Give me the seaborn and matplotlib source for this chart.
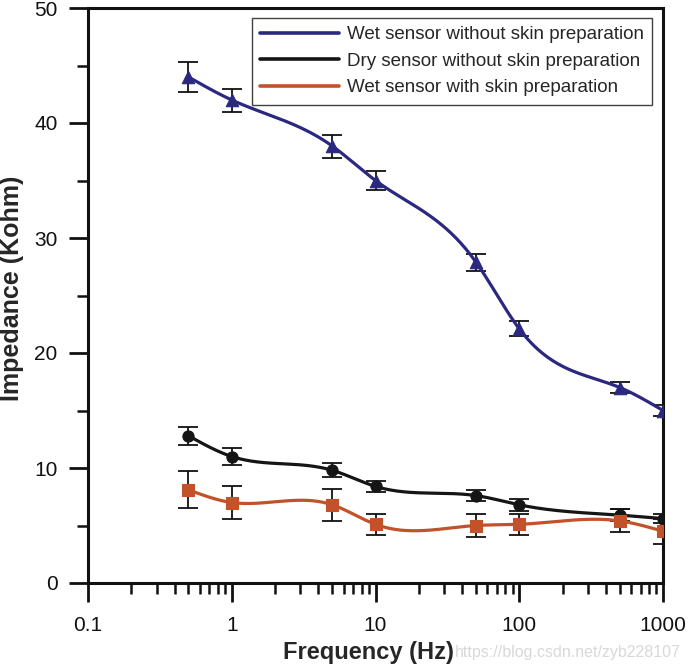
import numpy as np
import pandas as pd
import matplotlib
matplotlib.use("Agg")
import matplotlib.pyplot as plt
import matplotlib.ticker as mticker
import seaborn as sns

# ---------------- data ----------------
freq = [0.5, 1, 5, 10, 50, 100, 500, 1000]

wet_no_prep = [44.0, 42.0, 38.0, 35.0, 27.9, 22.1, 17.0, 15.0]
wet_no_prep_err = [1.3, 1.0, 1.0, 0.8, 0.75, 0.65, 0.5, 0.5]

dry_no_prep = [12.8, 11.0, 9.8, 8.4, 7.6, 6.8, 5.9, 5.6]
dry_no_prep_err = [0.8, 0.7, 0.6, 0.5, 0.5, 0.5, 0.5, 0.4]

wet_prep = [8.1, 7.0, 6.8, 5.1, 5.0, 5.1, 5.4, 4.5]
wet_prep_err = [1.6, 1.4, 1.4, 0.9, 1.0, 0.9, 1.0, 1.1]

series_names = ["Wet sensor without skin preparation",
                "Dry sensor without skin preparation",
                "Wet sensor with skin preparation"]
x_tick_labels = ["0.1", "1", "10", "100", "1000"]
y_ticks = [0, 10, 20, 30, 40, 50]

colors = ["#2B2880", "#151515", "#C1522A"]
markers = ["^", "o", "s"]


def natural_spline(x, y, n=400):
    x = np.asarray(x, float)
    y = np.asarray(y, float)
    k = len(x)
    h = np.diff(x)
    A = np.zeros((k, k))
    b = np.zeros(k)
    A[0, 0] = 1
    A[-1, -1] = 1
    for i in range(1, k - 1):
        A[i, i - 1] = h[i - 1]
        A[i, i] = 2 * (h[i - 1] + h[i])
        A[i, i + 1] = h[i]
        b[i] = 3 * ((y[i + 1] - y[i]) / h[i] - (y[i] - y[i - 1]) / h[i - 1])
    c = np.linalg.solve(A, b)
    xs = np.linspace(x[0], x[-1], n)
    ys = np.empty_like(xs)
    for j, xv in enumerate(xs):
        i = min(np.searchsorted(x, xv, side="right") - 1, k - 2)
        i = max(i, 0)
        dx = xv - x[i]
        bi = (y[i + 1] - y[i]) / h[i] - h[i] * (2 * c[i] + c[i + 1]) / 3
        di = (c[i + 1] - c[i]) / (3 * h[i])
        ys[j] = y[i] + bi * dx + c[i] * dx ** 2 + di * dx ** 3
    return xs, ys


sns.set_theme(style="ticks")
plt.rcParams["font.family"] = ["Liberation Sans", "DejaVu Sans"]

fig = plt.figure(figsize=(6.88, 6.65), dpi=100)
ax = fig.add_axes([88 / 688, 82 / 665, 575 / 688, 575 / 665])

all_vals = [wet_no_prep, dry_no_prep, wet_prep]
all_errs = [wet_no_prep_err, dry_no_prep_err, wet_prep_err]

for name, vals, errs, col, mk in zip(series_names, all_vals, all_errs, colors, markers):
    lx, ly = natural_spline(np.log10(freq), vals)
    curve = pd.DataFrame({"x": 10 ** lx, "y": ly})
    sns.lineplot(data=curve, x="x", y="y", ax=ax, color=col, lw=2.3,
                 sort=False, label=name, zorder=3)
    ax.errorbar(freq, vals, yerr=errs, fmt="none", ecolor="#111111",
                elinewidth=1.3, capsize=7, capthick=1.3, zorder=2)
    pts = pd.DataFrame({"x": freq, "y": vals})
    sns.scatterplot(data=pts, x="x", y="y", ax=ax, color=col, marker=mk,
                    s=80 if mk == "^" else 65, edgecolor=col, linewidth=0.8,
                    zorder=4, legend=False)

ax.set_xscale("log")
ax.set_xlim(0.1, 1000)
ax.set_ylim(0, 50)
ax.set_xticks([0.1, 1, 10, 100, 1000])
ax.set_xticklabels(x_tick_labels)
ax.xaxis.set_minor_locator(mticker.LogLocator(base=10, subs=np.arange(2, 10), numticks=20))
ax.xaxis.set_minor_formatter(mticker.NullFormatter())
ax.set_yticks(y_ticks)
ax.yaxis.set_minor_locator(mticker.MultipleLocator(5))

for s in ax.spines.values():
    s.set_linewidth(2.2)
    s.set_color("#111111")
    s.set_visible(True)

ax.tick_params(axis="x", which="major", direction="out", length=14, width=2.0,
               labelsize=15, pad=10, colors="#111111")
ax.tick_params(axis="x", which="minor", direction="out", length=8, width=1.8,
               colors="#111111")
ax.tick_params(axis="y", which="major", direction="out", length=14, width=2.0,
               labelsize=15, pad=8, colors="#111111")
ax.tick_params(axis="y", which="minor", direction="out", length=8, width=1.8,
               colors="#111111")

ax.set_xlabel("Frequency (Hz)", fontsize=17, fontweight="bold")
ax.set_ylabel("Impedance (Kohm)", fontsize=18, fontweight="bold")
ax.xaxis.set_label_coords(0.4885, -0.1)
ax.yaxis.set_label_coords(-0.112, 0.512)

leg = ax.legend(loc="upper right", bbox_to_anchor=(0.981, 0.983), fontsize=13.5,
                frameon=True, fancybox=False, shadow=False, handlelength=4.2,
                borderpad=0.45, labelspacing=0.5, handletextpad=0.4,
                borderaxespad=0)
leg.get_frame().set_edgecolor("#111111")
leg.get_frame().set_linewidth(1.0)
for line in leg.get_lines():
    line.set_linewidth(2.6)

fig.text(681 / 688, 5 / 665, "https://blog.csdn.net/zyb228107", ha="right", va="bottom",
         fontsize=11.5, color="#d8d8d8")

fig.savefig("out.png", dpi=100)
